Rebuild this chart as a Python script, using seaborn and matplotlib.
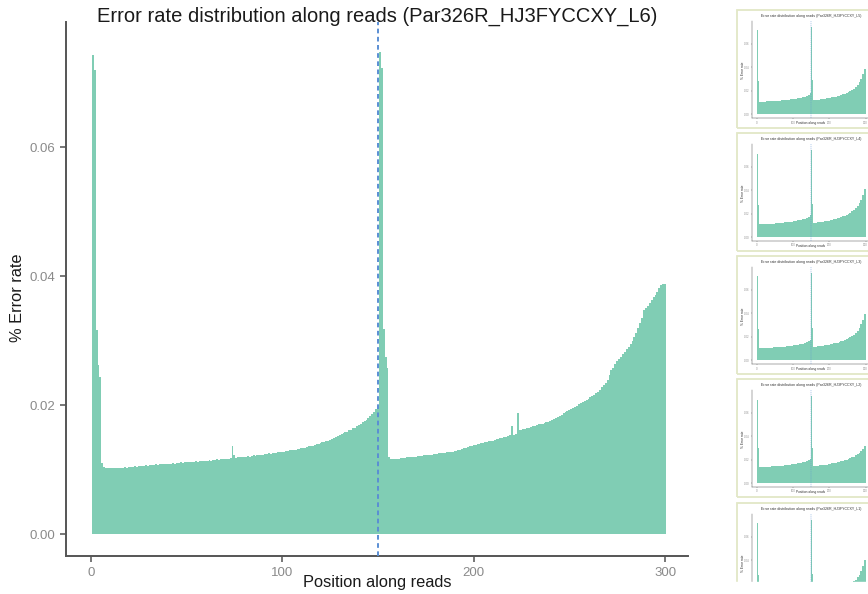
import matplotlib
matplotlib.use("Agg")
import matplotlib.pyplot as plt
import seaborn as sns
import pandas as pd
from matplotlib.patches import Rectangle

# ---------------- data ----------------
title = "Error rate distribution along reads (Par326R_HJ3FYCCXY_L6)"
x_label = "Position along reads"
y_label = "% Error rate"
x_ticks = [0, 100, 200, 300]
y_ticks = [0.00, 0.02, 0.04, 0.06]
y_tick_labels = ["0.00", "0.02", "0.04", "0.06"]
read_boundary = 150

positions = list(range(1, 301))
error_rate = [
    # 1-50
    0.0743, 0.0719, 0.0316, 0.0262, 0.0243, 0.0110, 0.0104, 0.0103, 0.0102, 0.0102,
    0.0102, 0.0102, 0.0103, 0.0102, 0.0103, 0.0103, 0.0103, 0.0104, 0.0103, 0.0104,
    0.0104, 0.0104, 0.0105, 0.0104, 0.0105, 0.0106, 0.0106, 0.0106, 0.0107, 0.0106,
    0.0107, 0.0107, 0.0107, 0.0108, 0.0107, 0.0108, 0.0108, 0.0108, 0.0109, 0.0108,
    0.0109, 0.0109, 0.0110, 0.0109, 0.0110, 0.0110, 0.0111, 0.0110, 0.0111, 0.0111,
    # 51-100
    0.0112, 0.0111, 0.0112, 0.0112, 0.0113, 0.0112, 0.0113, 0.0114, 0.0113, 0.0114,
    0.0114, 0.0115, 0.0114, 0.0115, 0.0115, 0.0116, 0.0115, 0.0116, 0.0116, 0.0117,
    0.0117, 0.0117, 0.0118, 0.0136, 0.0122, 0.0118, 0.0119, 0.0119, 0.0120, 0.0119,
    0.0120, 0.0121, 0.0120, 0.0121, 0.0122, 0.0121, 0.0122, 0.0123, 0.0122, 0.0123,
    0.0124, 0.0124, 0.0125, 0.0124, 0.0125, 0.0126, 0.0126, 0.0127, 0.0127, 0.0128,
    # 101-150
    0.0128, 0.0129, 0.0129, 0.0130, 0.0130, 0.0131, 0.0131, 0.0132, 0.0132, 0.0133,
    0.0134, 0.0134, 0.0135, 0.0136, 0.0136, 0.0137, 0.0138, 0.0139, 0.0140, 0.0141,
    0.0142, 0.0143, 0.0144, 0.0145, 0.0146, 0.0148, 0.0149, 0.0150, 0.0152, 0.0153,
    0.0155, 0.0156, 0.0158, 0.0159, 0.0161, 0.0162, 0.0164, 0.0165, 0.0167, 0.0169,
    0.0171, 0.0173, 0.0175, 0.0177, 0.0180, 0.0183, 0.0186, 0.0190, 0.0194, 0.0199,
    # 151-200
    0.0747, 0.0722, 0.0318, 0.0275, 0.0258, 0.0119, 0.0117, 0.0117, 0.0116, 0.0117,
    0.0117, 0.0118, 0.0118, 0.0118, 0.0119, 0.0119, 0.0119, 0.0120, 0.0120, 0.0120,
    0.0121, 0.0121, 0.0121, 0.0122, 0.0122, 0.0122, 0.0123, 0.0123, 0.0124, 0.0124,
    0.0124, 0.0125, 0.0125, 0.0126, 0.0126, 0.0127, 0.0127, 0.0127, 0.0128, 0.0129,
    0.0129, 0.0130, 0.0131, 0.0132, 0.0133, 0.0134, 0.0135, 0.0136, 0.0137, 0.0138,
    # 201-250
    0.0138, 0.0139, 0.0140, 0.0141, 0.0141, 0.0142, 0.0143, 0.0144, 0.0144, 0.0145,
    0.0146, 0.0147, 0.0148, 0.0149, 0.0149, 0.0150, 0.0151, 0.0152, 0.0153, 0.0167,
    0.0154, 0.0155, 0.0188, 0.0161, 0.0162, 0.0163, 0.0163, 0.0164, 0.0165, 0.0166,
    0.0167, 0.0168, 0.0169, 0.0170, 0.0171, 0.0171, 0.0172, 0.0173, 0.0174, 0.0176,
    0.0177, 0.0179, 0.0180, 0.0182, 0.0183, 0.0185, 0.0187, 0.0189, 0.0191, 0.0193,
    # 251-300
    0.0194, 0.0196, 0.0197, 0.0199, 0.0201, 0.0203, 0.0205, 0.0206, 0.0208, 0.0210,
    0.0212, 0.0214, 0.0216, 0.0218, 0.0221, 0.0223, 0.0228, 0.0231, 0.0235, 0.0239,
    0.0246, 0.0254, 0.0257, 0.0263, 0.0268, 0.0271, 0.0275, 0.0279, 0.0283, 0.0287,
    0.0290, 0.0294, 0.0299, 0.0305, 0.0312, 0.0319, 0.0327, 0.0335, 0.0347, 0.0350,
    0.0354, 0.0358, 0.0363, 0.0367, 0.0371, 0.0375, 0.0382, 0.0386, 0.0387, 0.0388,
]

# thumbnails (other lanes): 5-position bins + single-position spikes
thumb_titles = [
    "Error rate distribution along reads (Par326R_HJ3FYCCXY_L5)",
    "Error rate distribution along reads (Par326R_HJ3FYCCXY_L4)",
    "Error rate distribution along reads (Par326R_HJ3FYCCXY_L3)",
    "Error rate distribution along reads (Par326R_HJ3FYCCXY_L2)",
    "Error rate distribution along reads (Par326R_HJ3FYCCXY_L1)",
]
thumb_bin_pos = list(range(3, 300, 5))
thumb_spike_pos = [1, 2, 151, 152]
thumb1 = [0.0280, 0.0104, 0.0104, 0.0105, 0.0106, 0.0107, 0.0108, 0.0109, 0.0110, 0.0111,
          0.0112, 0.0113, 0.0114, 0.0116, 0.0117, 0.0119, 0.0120, 0.0122, 0.0124, 0.0126,
          0.0128, 0.0131, 0.0134, 0.0137, 0.0140, 0.0144, 0.0149, 0.0155, 0.0163, 0.0178,
          0.0290, 0.0118, 0.0119, 0.0121, 0.0123, 0.0125, 0.0127, 0.0130, 0.0133, 0.0136,
          0.0139, 0.0142, 0.0145, 0.0149, 0.0153, 0.0158, 0.0163, 0.0168, 0.0174, 0.0180,
          0.0188, 0.0196, 0.0205, 0.0216, 0.0229, 0.0248, 0.0272, 0.0300, 0.0340, 0.0385]
thumb2 = [0.0270, 0.0108, 0.0108, 0.0109, 0.0110, 0.0111, 0.0112, 0.0113, 0.0114, 0.0115,
          0.0116, 0.0118, 0.0119, 0.0121, 0.0122, 0.0124, 0.0126, 0.0128, 0.0130, 0.0132,
          0.0135, 0.0138, 0.0141, 0.0144, 0.0148, 0.0152, 0.0157, 0.0163, 0.0171, 0.0186,
          0.0280, 0.0122, 0.0123, 0.0125, 0.0127, 0.0129, 0.0131, 0.0134, 0.0137, 0.0140,
          0.0143, 0.0147, 0.0151, 0.0155, 0.0160, 0.0165, 0.0170, 0.0176, 0.0183, 0.0190,
          0.0198, 0.0207, 0.0218, 0.0230, 0.0245, 0.0265, 0.0290, 0.0320, 0.0360, 0.0410]
thumb3 = [0.0265, 0.0100, 0.0100, 0.0101, 0.0102, 0.0103, 0.0104, 0.0105, 0.0106, 0.0107,
          0.0108, 0.0109, 0.0110, 0.0112, 0.0113, 0.0115, 0.0116, 0.0118, 0.0120, 0.0122,
          0.0124, 0.0127, 0.0130, 0.0133, 0.0136, 0.0140, 0.0145, 0.0151, 0.0159, 0.0172,
          0.0275, 0.0113, 0.0114, 0.0116, 0.0118, 0.0120, 0.0122, 0.0125, 0.0128, 0.0131,
          0.0134, 0.0137, 0.0141, 0.0145, 0.0149, 0.0154, 0.0159, 0.0164, 0.0170, 0.0177,
          0.0185, 0.0194, 0.0204, 0.0216, 0.0231, 0.0250, 0.0275, 0.0305, 0.0345, 0.0395]
thumb4 = [0.0300, 0.0135, 0.0135, 0.0136, 0.0137, 0.0138, 0.0139, 0.0140, 0.0141, 0.0142,
          0.0143, 0.0145, 0.0146, 0.0148, 0.0149, 0.0151, 0.0153, 0.0155, 0.0157, 0.0159,
          0.0161, 0.0164, 0.0167, 0.0170, 0.0173, 0.0177, 0.0182, 0.0188, 0.0195, 0.0208,
          0.0300, 0.0145, 0.0146, 0.0148, 0.0150, 0.0152, 0.0154, 0.0156, 0.0158, 0.0161,
          0.0164, 0.0167, 0.0170, 0.0173, 0.0177, 0.0181, 0.0185, 0.0189, 0.0194, 0.0199,
          0.0205, 0.0211, 0.0218, 0.0226, 0.0235, 0.0246, 0.0259, 0.0274, 0.0291, 0.0312]
thumb5 = [0.0275, 0.0102, 0.0102, 0.0103, 0.0104, 0.0105, 0.0106, 0.0107, 0.0108, 0.0109,
          0.0110, 0.0111, 0.0112, 0.0114, 0.0115, 0.0117, 0.0118, 0.0120, 0.0122, 0.0124,
          0.0126, 0.0129, 0.0132, 0.0135, 0.0138, 0.0142, 0.0147, 0.0153, 0.0161, 0.0175,
          0.0280, 0.0115, 0.0116, 0.0118, 0.0120, 0.0122, 0.0124, 0.0127, 0.0130, 0.0133,
          0.0136, 0.0139, 0.0143, 0.0147, 0.0151, 0.0156, 0.0161, 0.0166, 0.0172, 0.0179,
          0.0187, 0.0196, 0.0206, 0.0218, 0.0233, 0.0252, 0.0277, 0.0308, 0.0350, 0.0400]
thumb_values = [thumb1, thumb2, thumb3, thumb4, thumb5]
thumb_spikes = [
    [0.0740, 0.0715, 0.0745, 0.0720],
    [0.0735, 0.0710, 0.0740, 0.0712],
    [0.0742, 0.0718, 0.0744, 0.0716],
    [0.0738, 0.0712, 0.0741, 0.0715],
    [0.0740, 0.0716, 0.0743, 0.0718],
]

# ---------------- style ----------------
BAR = "#80CDB4"
VLINE = "#5A8ED4"
AXIS = "#555555"
TICKTXT = "#8a8a8a"

sns.set_theme(style="ticks")
plt.rcParams["font.family"] = ["Liberation Sans", "DejaVu Sans"]

W, H = 868, 594
fig = plt.figure(figsize=(W / 100, H / 100), dpi=100)


def ax_px(l, t, r, b):
    return fig.add_axes([l / W, 1 - b / H, (r - l) / W, (b - t) / H])


def style_axes(ax, lw, ticklen, fs, pad):
    for s in ["top", "right"]:
        ax.spines[s].set_visible(False)
    for s in ["left", "bottom"]:
        ax.spines[s].set_color(AXIS)
        ax.spines[s].set_linewidth(lw)
    ax.tick_params(axis="both", colors=AXIS, length=ticklen, width=lw * 0.8,
                   labelsize=fs, labelcolor=TICKTXT, pad=pad)
    ax.set_xlabel("")
    ax.set_ylabel("")
    ax.set_facecolor("white")


# ---------------- main chart ----------------
YMIN, YMAX = -0.0034, 0.0794
ax = ax_px(66, 22, 688, 556)
df = pd.DataFrame({"pos": positions, "rate": error_rate})
sns.barplot(data=df, x="pos", y="rate", native_scale=True, width=1.0,
            color=BAR, saturation=1, edgecolor="none", linewidth=0,
            errorbar=None, ax=ax)
ax.axvline(read_boundary, color=VLINE, lw=1.4, ls=(0, (2.4, 1.8)), zorder=5)
ax.set_xlim(-13, 312)
ax.set_ylim(YMIN, YMAX)
ax.set_xticks(x_ticks)
ax.set_xticklabels([str(t) for t in x_ticks])
ax.set_yticks(y_ticks)
ax.set_yticklabels(y_tick_labels)
style_axes(ax, 1.4, 4, 9.5, 4)

fig.text(377 / W, 1 - 16 / H, title, ha="center", va="center",
         fontsize=14.5, color="#1a1a1a")
fig.text(18 / W, 1 - 298 / H, y_label, ha="center", va="center",
         rotation=90, fontsize=11.8, color="#1a1a1a")
fig.text(377 / W, 1 - 583 / H, x_label, ha="center", va="center",
         fontsize=11.8, color="#1a1a1a")

# ---------------- thumbnails ----------------
thumb_tops = [10, 133, 256, 379, 503]
CUT = 582  # page edge where the last thumbnail is cut off
n_thumbs = len(thumb_tops)
for i, (top, ttl, vals, spikes) in enumerate(zip(thumb_tops, thumb_titles,
                                                  thumb_values, thumb_spikes)):
    last = i == n_thumbs - 1
    fig.add_artist(Rectangle((737 / W, 1 - (top + 118) / H), 200 / W, 118 / H,
                             transform=fig.transFigure, fill=False,
                             ec="#E2E7C6", lw=1.3, zorder=1))
    a_top, a_bot = top + 11, top + 108
    ymin = YMIN
    if last:
        # only the upper part of this thumbnail is visible
        ymin = YMIN + (a_bot - CUT) / (a_bot - a_top) * (YMAX - YMIN)
        a_bot = CUT
    tax = ax_px(752, a_top, 870, a_bot)
    tdf = pd.DataFrame({"pos": thumb_bin_pos, "rate": vals})
    sns.barplot(data=tdf, x="pos", y="rate", native_scale=True, width=1.0,
                color=BAR, saturation=1, edgecolor="none", linewidth=0,
                errorbar=None, ax=tax)
    tax.bar(thumb_spike_pos, spikes, width=1.0, color=BAR, linewidth=0)
    tax.axvline(read_boundary, color=VLINE, lw=0.3, ls=(0, (3, 2)), zorder=5)
    tax.set_xlim(-13, 312)
    tax.set_ylim(ymin, YMAX)
    style_axes(tax, 0.35, 1.0, 2.0, 0.8)
    if last:
        tax.spines["bottom"].set_visible(False)
        tax.set_xticks([])
        vis = [(t, l) for t, l in zip(y_ticks, y_tick_labels) if t > ymin + 0.004]
        tax.set_yticks([t for t, _ in vis])
        tax.set_yticklabels([l for _, l in vis])
    else:
        tax.set_xticks(x_ticks)
        tax.set_xticklabels([str(t) for t in x_ticks])
        tax.set_yticks(y_ticks)
        tax.set_yticklabels(y_tick_labels)
    fig.text(811 / W, 1 - (top + 6) / H, ttl, ha="center", va="center",
             fontsize=2.6, color="#333333")
    fig.text(743 / W, 1 - (top + 60) / H, y_label, ha="center", va="center",
             rotation=90, fontsize=2.3, color="#333333")
    if not last:
        fig.text(811 / W, 1 - (top + 113) / H, x_label, ha="center", va="center",
                 fontsize=2.3, color="#333333")

# the frame of the last thumbnail is cut off at the bottom
fig.add_artist(Rectangle((728 / W, 0), 150 / W, (H - CUT) / H,
                         transform=fig.transFigure, color="white", zorder=20))

fig.savefig("out.png", dpi=100, facecolor="white")
